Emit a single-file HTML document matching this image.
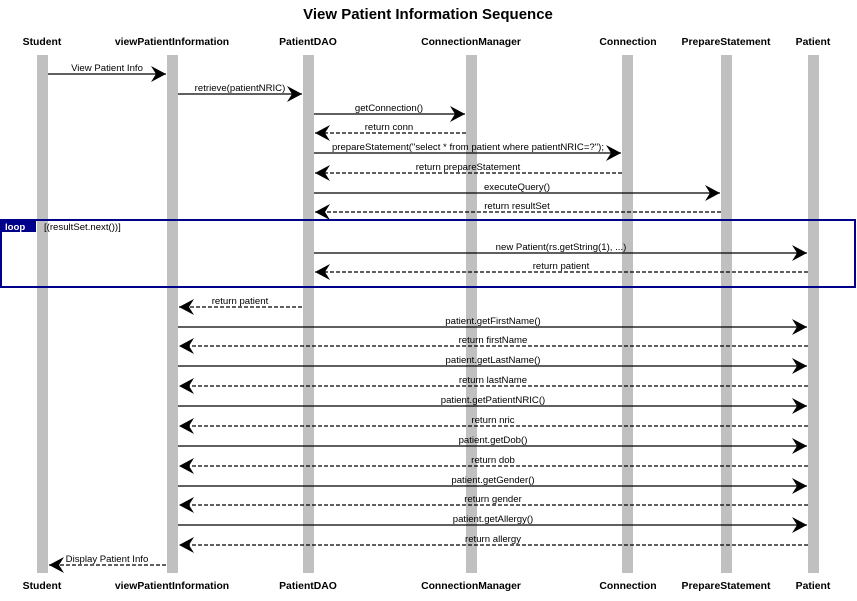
<!DOCTYPE html>
<html><head><meta charset="utf-8"><style>
html,body{margin:0;padding:0;background:#fff;}
svg{display:block;font-family:"Liberation Sans",Arial,sans-serif;}
.h{font-size:10.4px;font-weight:bold;text-anchor:middle;fill:#000;}
.m{font-size:9.6px;text-anchor:middle;fill:#000;}
.s{stroke:#000;stroke-width:1.3;fill:none;}
.d{stroke:#000;stroke-width:1.3;fill:none;stroke-dasharray:4,2;}
</style></head><body>
<svg width="857" height="601" viewBox="0 0 857 601" xmlns="http://www.w3.org/2000/svg">
<defs>
<marker id="a" markerWidth="17" markerHeight="16" refX="16" refY="8" orient="auto" markerUnits="userSpaceOnUse">
<polygon points="16,8 1,0 6,8 1,16" fill="#000"/>
</marker>
</defs>
<text x="428" y="19" style="font-size:15px;font-weight:bold;text-anchor:middle">View Patient Information Sequence</text>
<g class="h">
<text x="42" y="45">Student</text>
<text x="172" y="45">viewPatientInformation</text>
<text x="308" y="45">PatientDAO</text>
<text x="471" y="45">ConnectionManager</text>
<text x="628" y="45">Connection</text>
<text x="726" y="45">PrepareStatement</text>
<text x="813" y="45">Patient</text>
<text x="42" y="589">Student</text>
<text x="172" y="589">viewPatientInformation</text>
<text x="308" y="589">PatientDAO</text>
<text x="471" y="589">ConnectionManager</text>
<text x="628" y="589">Connection</text>
<text x="726" y="589">PrepareStatement</text>
<text x="813" y="589">Patient</text>
</g>
<g fill="#c0c0c0">
<rect x="37" y="55" width="11" height="518"/>
<rect x="167" y="55" width="11" height="518"/>
<rect x="303" y="55" width="11" height="518"/>
<rect x="466" y="55" width="11" height="518"/>
<rect x="622" y="55" width="11" height="518"/>
<rect x="721" y="55" width="11" height="518"/>
<rect x="808" y="55" width="11" height="518"/>
</g>
<rect x="1" y="220" width="854" height="67" fill="none" stroke="#00008b" stroke-width="2"/>
<rect x="1" y="220" width="35" height="12" fill="#00008b"/>
<text x="5" y="230" style="font-size:9.6px;font-weight:bold;fill:#fff">loop</text>
<text x="44" y="230" class="m" style="text-anchor:start">[(resultSet.next())]</text>

<g marker-end="url(#a)">
<line class="s" x1="48" y1="74" x2="166" y2="74"/>
<line class="s" x1="178" y1="94" x2="302" y2="94"/>
<line class="s" x1="314" y1="114" x2="465" y2="114"/>
<line class="d" x1="466" y1="133" x2="315" y2="133"/>
<line class="s" x1="314" y1="153" x2="621" y2="153"/>
<line class="d" x1="622" y1="173" x2="315" y2="173"/>
<line class="s" x1="314" y1="193" x2="720" y2="193"/>
<line class="d" x1="721" y1="212" x2="315" y2="212"/>
<line class="s" x1="314" y1="253" x2="807" y2="253"/>
<line class="d" x1="808" y1="272" x2="315" y2="272"/>
<line class="d" x1="302" y1="307" x2="179" y2="307"/>
<line class="s" x1="178" y1="327" x2="807" y2="327"/>
<line class="d" x1="808" y1="346" x2="179" y2="346"/>
<line class="s" x1="178" y1="366" x2="807" y2="366"/>
<line class="d" x1="808" y1="386" x2="179" y2="386"/>
<line class="s" x1="178" y1="406" x2="807" y2="406"/>
<line class="d" x1="808" y1="426" x2="179" y2="426"/>
<line class="s" x1="178" y1="446" x2="807" y2="446"/>
<line class="d" x1="808" y1="466" x2="179" y2="466"/>
<line class="s" x1="178" y1="486" x2="807" y2="486"/>
<line class="d" x1="808" y1="505" x2="179" y2="505"/>
<line class="s" x1="178" y1="525" x2="807" y2="525"/>
<line class="d" x1="808" y1="545" x2="179" y2="545"/>
<line class="d" x1="166" y1="565" x2="49" y2="565"/>
</g>
<g class="m">
<text x="107" y="71">View Patient Info</text>
<text x="240" y="91">retrieve(patientNRIC)</text>
<text x="389" y="111">getConnection()</text>
<text x="389" y="130">return conn</text>
<text x="468" y="150">prepareStatement("select * from patient where patientNRIC=?");</text>
<text x="468" y="170">return prepareStatement</text>
<text x="517" y="190">executeQuery()</text>
<text x="517" y="209">return resultSet</text>
<text x="561" y="250">new Patient(rs.getString(1), ...)</text>
<text x="561" y="269">return patient</text>
<text x="240" y="304">return patient</text>
<text x="493" y="324">patient.getFirstName()</text>
<text x="493" y="343">return firstName</text>
<text x="493" y="363">patient.getLastName()</text>
<text x="493" y="383">return lastName</text>
<text x="493" y="403">patient.getPatientNRIC()</text>
<text x="493" y="423">return nric</text>
<text x="493" y="443">patient.getDob()</text>
<text x="493" y="463">return dob</text>
<text x="493" y="483">patient.getGender()</text>
<text x="493" y="502">return gender</text>
<text x="493" y="522">patient.getAllergy()</text>
<text x="493" y="542">return allergy</text>
<text x="107" y="562">Display Patient Info</text>
</g>
</svg>
</body></html>
